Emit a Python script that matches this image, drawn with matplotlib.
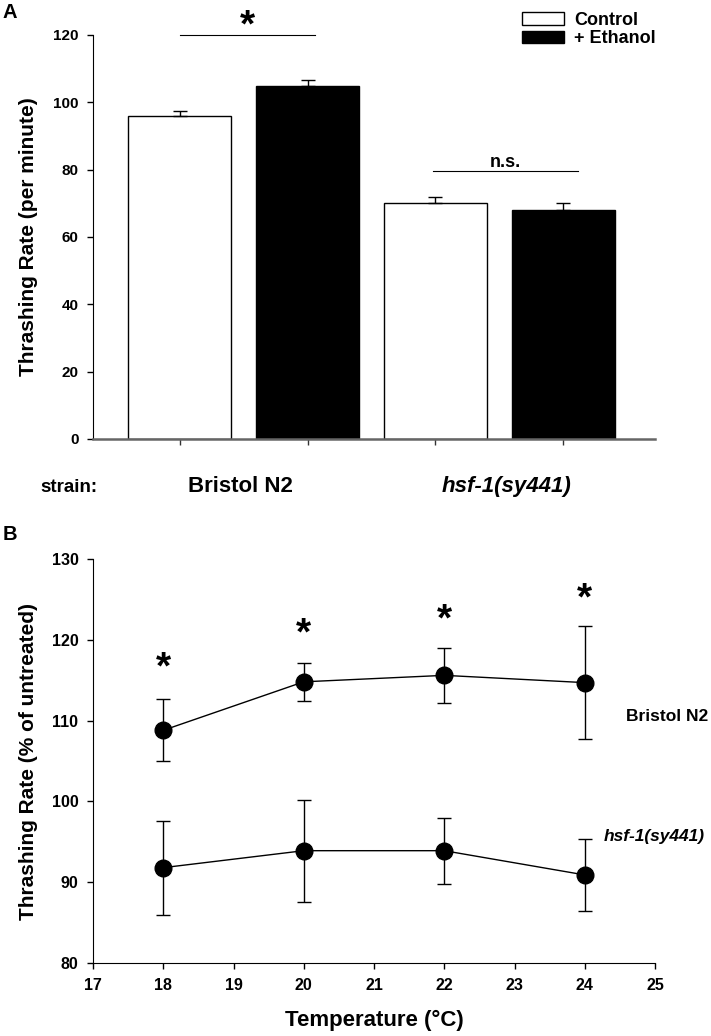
import matplotlib
matplotlib.use("Agg")
import matplotlib.pyplot as plt
from matplotlib.patches import Patch

plt.rcParams['font.family'] = ['Liberation Sans', 'DejaVu Sans']
plt.rcParams['font.weight'] = 'bold'

# Panel A data
strains = ["Bristol N2", "hsf-1(sy441)"]
groups = ["Control", "+ Ethanol"]
control_vals = [96, 70]
control_err = [1.3, 1.8]
ethanol_vals = [105, 68]
ethanol_err = [1.5, 2.0]
a_yticks = [0, 20, 40, 60, 80, 100, 120]

# Panel B data
temps = [18, 20, 22, 24]
n2_vals = [108.8, 114.8, 115.6, 114.7]
n2_err = [3.85, 2.35, 3.4, 7.0]
hsf_vals = [91.8, 93.9, 93.9, 90.9]
hsf_err = [5.8, 6.3, 4.1, 4.5]
star_y = [115.2, 119.4, 121.2, 123.8]
b_yticks = [80, 90, 100, 110, 120, 130]
b_xticks = [17, 18, 19, 20, 21, 22, 23, 24, 25]

fig = plt.figure(figsize=(7.11, 10.36), dpi=100)

# ---------------- Panel A ----------------
axA = fig.add_axes([93 / 711, 1 - 439 / 1036, 562 / 711, 404 / 1036])
pos = [1, 2, 3, 4]
vals = [control_vals[0], ethanol_vals[0], control_vals[1], ethanol_vals[1]]
errs = [control_err[0], ethanol_err[0], control_err[1], ethanol_err[1]]
cols = ['white', 'black', 'white', 'black']
axA.bar(pos, vals, width=0.8, color=cols, edgecolor='black', linewidth=1.0, zorder=2)
for p, v, e in zip(pos, vals, errs):
    axA.errorbar([p], [v], yerr=[[0], [e]], fmt='none', ecolor='black',
                 elinewidth=1.0, capsize=4.7, capthick=1.0, zorder=3)
axA.set_xlim(0.324, 4.715)
axA.set_ylim(0, 120)
axA.set_yticks(a_yticks)
axA.set_xticks(pos)
axA.set_xticklabels([])
axA.tick_params(axis='y', direction='out', length=4.5, width=1, labelsize=11, pad=6)
axA.tick_params(axis='x', direction='out', length=4.5, width=1, color='#333333')
axA.spines['top'].set_visible(False)
axA.spines['right'].set_visible(False)
axA.spines['bottom'].set_color('#666666')
axA.spines['bottom'].set_linewidth(1.8)
axA.set_ylabel("Thrashing Rate (per minute)", fontsize=15, fontweight='bold')
axA.yaxis.set_label_coords(-0.098, 0.5)

# significance markers
axA.plot([1.0, 2.06], [120, 120], color='black', lw=0.8, clip_on=False)
axA.text(1.527, 119.5, "*", ha='center', va='baseline', fontsize=28, fontweight='bold', clip_on=False)
axA.plot([2.98, 4.11], [79.5, 79.5], color='black', lw=0.8, clip_on=False)
axA.text(3.543, 80.8, "n.s.", ha='center', va='baseline', fontsize=13, fontweight='bold')

handles = [Patch(facecolor='white', edgecolor='black', label=groups[0]),
           Patch(facecolor='black', edgecolor='black', label=groups[1])]
leg = fig.legend(handles=handles, loc='upper left', bbox_to_anchor=(522 / 711, 1 - 12 / 1036),
                 frameon=False, prop={'weight': 'bold', 'size': 13},
                 handlelength=2.3, handleheight=0.7, handletextpad=0.6, labelspacing=0.08,
                 borderpad=0, borderaxespad=0)

# strain labels
base_y = 1 - 492 / 1036
fig.text(40 / 711, base_y, "strain:", fontsize=13.5, fontweight='bold', va='baseline')
fig.text(240 / 711, base_y, strains[0], fontsize=16, fontweight='bold', ha='center', va='baseline')
fig.text(507 / 711, base_y, strains[1], fontsize=16, fontweight='bold', fontstyle='italic',
         ha='center', va='baseline')

fig.text(3 / 711, 1 - 12 / 1036, "A", fontsize=14.5, fontweight='bold', va='center')
fig.text(3 / 711, 1 - 535 / 1036, "B", fontsize=14.5, fontweight='bold', va='center')

# ---------------- Panel B ----------------
axB = fig.add_axes([93 / 711, 1 - 963 / 1036, 562 / 711, 404 / 1036])
axB.errorbar(temps, n2_vals, yerr=n2_err, fmt='-o', color='black', ecolor='black',
             lw=1.0, elinewidth=1.0, capsize=4.7, capthick=1.0, markersize=12, zorder=3)
axB.errorbar(temps, hsf_vals, yerr=hsf_err, fmt='-o', color='black', ecolor='black',
             lw=1.0, elinewidth=1.0, capsize=4.7, capthick=1.0, markersize=12, zorder=3)
for t, s in zip(temps, star_y):
    axB.text(t, s, "*", ha='center', va='baseline', fontsize=28, fontweight='bold', clip_on=False)
axB.set_xlim(17, 25)
axB.set_ylim(80, 130)
axB.set_xticks(b_xticks)
axB.set_yticks(b_yticks)
axB.tick_params(axis='both', direction='out', length=4.5, width=1, labelsize=11.5, pad=6)
axB.spines['top'].set_visible(False)
axB.spines['right'].set_visible(False)
axB.set_ylabel("Thrashing Rate (% of untreated)", fontsize=15, fontweight='bold')
axB.yaxis.set_label_coords(-0.098, 0.5)
axB.set_xlabel("Temperature (°C)", fontsize=16, fontweight='bold')
axB.xaxis.set_label_coords(0.5, -0.115)
axB.xaxis.label.set_va('top')
axB.text(24.59, 110.5, "Bristol N2", fontsize=12.5, fontweight='bold', va='center')
axB.text(24.27, 95.6, "hsf-1(sy441)", fontsize=12.5, fontweight='bold', fontstyle='italic',
         va='center')

fig.savefig("out.png", dpi=100)
